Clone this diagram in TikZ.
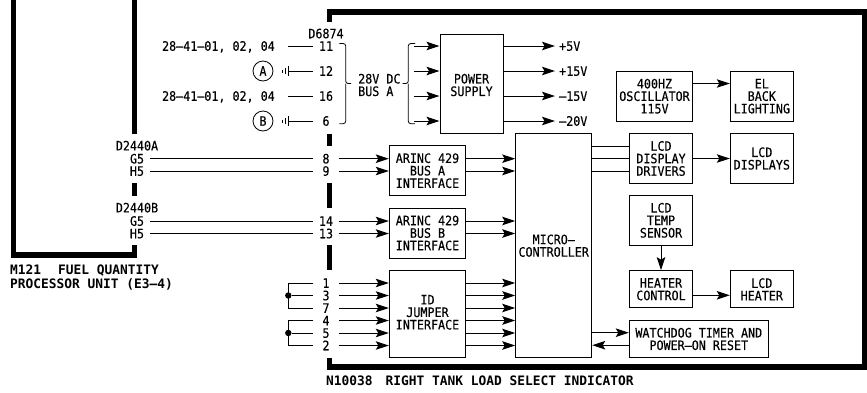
\documentclass[tikz,border=0pt]{standalone}
\usepackage{fontspec}
\setmainfont[FakeStretch=0.9, FakeBold=0.25]{DejaVu Sans Mono}
\newfontfamily\capfont[FakeStretch=0.99]{DejaVu Sans Mono}
\usepackage{tikz}
\usetikzlibrary{arrows.meta}

\tikzset{
  blockbox/.style={draw, line width=1pt, inner sep=0pt, align=center},
  pin/.style={inner sep=0pt, minimum width=25pt, text height=9.5pt, text depth=0pt},
  tag/.style={inner sep=0pt, text height=9.5pt, text depth=0pt},
  lines/.style={inner sep=0pt, align=center},
  caption/.style={inner sep=0pt, anchor=west, text height=9.5pt, text depth=0pt, font=\capfont\bfseries\fontsize{13}{15}\selectfont},
  frame/.style={line width=5.3pt, line join=miter},
  wire/.style={line width=1pt},
  sig/.style={line width=1pt, -{Stealth[length=13pt, width=8.5pt, inset=2.5pt]}}
}

\begin{document}
\begin{tikzpicture}[x=1pt, y=-1pt, font=\fontsize{13}{12.5}\selectfont]
    \useasboundingbox (0,0) rectangle (867,392);

    % unit outlines
    \draw[frame] (13.7,0) -- (13.7,255) -- (134.3,255) -- (134.3,245);
    \draw[frame] (134.3,0) -- (134.3,133.5);
    \draw[frame] (134.3,183) -- (134.3,196);
    \draw[frame] (329.3,21.5) -- (329.3,12) -- (865,12) -- (865,367) -- (329.3,367) -- (329.3,358);
    \draw[frame] (329.3,133.7) -- (329.3,146);
    \draw[frame] (329.3,183) -- (329.3,208);
    \draw[frame] (329.3,245.3) -- (329.3,270.3);

    % blocks
    \node[blockbox, minimum width=63pt, minimum height=99.3pt] (power) at (471.5,83.7) {};
    \node[lines] (powertext) at (471.5,85) {POWER\\SUPPLY};
    \node[blockbox, minimum width=76.4pt, minimum height=49.7pt] (osc) at (654.5,96.2) {400HZ\\OSCILLATOR\\115V};
    \node[blockbox, minimum width=63pt, minimum height=49.7pt] (backlight) at (761.8,96.2) {EL\\BACK\\LIGHTING};
    \node[blockbox, minimum width=76.4pt, minimum height=50pt] (arinca) at (427.5,170.7) {ARINC 429\\BUS A\\INTERFACE};
    \node[blockbox, minimum width=76.4pt, minimum height=50pt] (arincb) at (427.5,233) {ARINC 429\\BUS B\\INTERFACE};
    \node[blockbox, minimum width=76.4pt, minimum height=87pt] (idjumper) at (427.5,314.2) {};
    \node[lines] (idtext) at (427.5,312.3) {ID\\JUMPER\\INTERFACE};
    \node[blockbox, minimum width=76pt, minimum height=224pt] (micro) at (553.7,245.7) {MICRO–\\CONTROLLER};
    \node[blockbox, minimum width=63.4pt, minimum height=49.6pt] (drivers) at (661,158.5) {LCD\\DISPLAY\\DRIVERS};
    \node[blockbox, minimum width=63pt, minimum height=49.6pt] (displays) at (761.8,158.5) {LCD\\DISPLAYS};
    \node[blockbox, minimum width=63.4pt, minimum height=50pt] (sensor) at (661,220.3) {LCD\\TEMP\\SENSOR};
    \node[blockbox, minimum width=63.4pt, minimum height=37.3pt] (control) at (661,289.3) {HEATER\\CONTROL};
    \node[blockbox, minimum width=63pt, minimum height=37.3pt] (heater) at (761.8,289.3) {LCD\\HEATER};
    \node[blockbox, minimum width=139pt, minimum height=37.4pt] (watchdog) at (698.8,339) {WATCHDOG TIMER AND\\POWER–ON RESET};

    % connector pins
    \node[tag] (d6874) at (326,33.5) {D6874};
    \foreach \pnum/\py in {11/46, 12/71, 16/96, 6/121, 8/158.7, 9/171, 14/221, 13/233.5, 1/283, 3/295.5, 7/308, 4/320.5, 5/333, 2/345.5}
        \node[pin] (p\pnum) at (326,\py) {\pnum};

    % power inputs
    \node[tag, anchor=east] (cba) at (275,46) {28–41–01, 02, 04};
    \node[tag, anchor=east] (cbb) at (275,96) {28–41–01, 02, 04};
    \draw[wire] (288,46) -- (p11.west);
    \draw[wire] (288,96) -- (p16.west);
    \node[draw, circle, line width=0.8pt, minimum size=20pt, inner sep=0pt] (gnda) at (263,71) {A};
    \node[draw, circle, line width=0.8pt, minimum size=20pt, inner sep=0pt] (gndb) at (263,121) {B};
    \foreach \gy/\gpin in {71/p12, 121/p6} {
        \draw[wire] (288.7,\gy) -- (\gpin.west);
        \draw[line width=0.8pt] (288.7,\gy-5) -- (288.7,\gy+5);
        \draw[line width=0.8pt] (285.3,\gy-3) -- (285.3,\gy+3);
        \draw[line width=0.8pt] (282.7,\gy-1.5) -- (282.7,\gy+1.5);
    }
    \draw[line width=0.8pt, rounded corners=2.5pt] (339.3,43.5) -- (345.7,43.5) -- (345.7,83.5) -- (351,83.5);
    \draw[line width=0.8pt, rounded corners=2.5pt] (339.3,123.7) -- (345.7,123.7) -- (345.7,83.5);
    \node[lines, align=left, anchor=west] (busa) at (358,85) {28V DC\\BUS A};
    \draw[line width=0.8pt, rounded corners=2.5pt] (415,43.5) -- (408.3,43.5) -- (408.3,83.5) -- (402.7,83.5);
    \draw[line width=0.8pt, rounded corners=2.5pt] (415,123.7) -- (408.3,123.7) -- (408.3,83.5);
    \foreach \py in {46,71,96,121}
        \draw[sig] (414,\py) -- (power.west |- 0,\py);

    % power outputs
    \foreach \py/\volts in {46/+5V, 71/+15V, 96/–15V, 121/–20V} {
        \node[tag, anchor=west] (v\py) at (559,\py) {\volts};
        \draw[sig, shorten >=4pt] (power.east |- v\py) -- (v\py.west);
    }

    % ARINC inputs
    \node[tag] (d2440a) at (137,145.7) {D2440A};
    \node[tag] (g5a) at (137,158.7) {G5};
    \node[tag] (h5a) at (137,171) {H5};
    \node[tag] (d2440b) at (137,207.7) {D2440B};
    \node[tag] (g5b) at (137,221) {G5};
    \node[tag] (h5b) at (137,233.5) {H5};
    \draw[wire] (150,158.7) -- (p8.west);
    \draw[wire] (150,171) -- (p9.west);
    \draw[wire] (150,221) -- (p14.west);
    \draw[wire] (150,233.5) -- (p13.west);
    \foreach \pnum in {8,9}
        \draw[sig] (p\pnum.east) -- (arinca.west |- p\pnum);
    \foreach \pnum in {14,13}
        \draw[sig] (p\pnum.east) -- (arincb.west |- p\pnum);
    \foreach \pnum in {8,9} {
        \draw[sig] (arinca.east |- p\pnum) -- (micro.west |- p\pnum);
    }
    \foreach \pnum in {14,13}
        \draw[sig] (arincb.east |- p\pnum) -- (micro.west |- p\pnum);

    % ID jumpers
    \foreach \pnum in {1,3,7,4,5,2} {
        \draw[sig] (p\pnum.east) -- (idjumper.west |- p\pnum);
        \draw[sig] (idjumper.east |- p\pnum) -- (micro.west |- p\pnum);
    }
    \draw[wire] (p1.west) -- (288.3,283) -- (288.3,308) -- (p7.west);
    \draw[wire] (p4.west) -- (288.3,320.5) -- (288.3,345.5) -- (p2.west);
    \node[circle, fill, minimum size=6.4pt, inner sep=0pt] (dota) at (288.3,295.5) {};
    \node[circle, fill, minimum size=6.4pt, inner sep=0pt] (dotb) at (288.3,333) {};
    \draw[wire] (dota) -- (p3.west);
    \draw[wire] (dotb) -- (p5.west);

    % right side
    \draw[sig] (osc.east |- 0,83.5) -- (backlight.west |- 0,83.5);
    \foreach \py in {146,158.5,171}
        \draw[wire] (micro.east |- 0,\py) -- (drivers.west |- 0,\py);
    \draw[sig] (drivers) -- (displays);
    \draw[sig] (sensor) -- (control);
    \draw[sig] (control.east |- 0,295.3) -- (heater.west |- 0,295.3);
    \draw[sig] (micro.east |- 0,332.7) -- (watchdog.west |- 0,332.7);
    \draw[sig] (watchdog.west |- 0,345.2) -- (micro.east |- 0,345.2);

    % captions
    \node[caption] (m121a) at (10,269.5) {M121\hspace{17pt}FUEL QUANTITY};
    \node[caption] (m121b) at (10,284) {PROCESSOR UNIT (E3–4)};
    \node[caption] (n10038) at (326,381) {N10038\hspace{13pt}RIGHT TANK LOAD SELECT INDICATOR};
\end{tikzpicture}
\end{document}
